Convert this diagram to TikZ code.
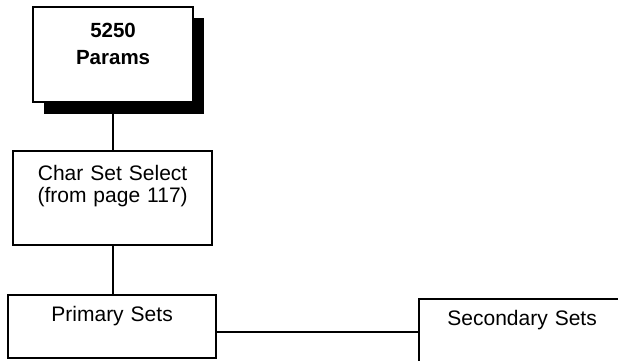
\documentclass[tikz,border=0pt]{standalone}
\usepackage{fontspec}
\setmainfont{Liberation Sans}
\usepackage{tikz}
\usetikzlibrary{shadows, positioning}
\tikzset{
  menubox/.style={draw, fill=white, line width=2.2pt, inner sep=0pt, anchor=north west, align=center,
    font=\fontsize{21}{22}\selectfont},
  topbox/.style={menubox, font=\fontsize{20.5}{27.5}\selectfont\bfseries,
    drop shadow={shadow xshift=10.5pt, shadow yshift=-11.5pt, fill=black, opacity=1}},
  link/.style={line width=2.2pt}
}

\begin{document}
\begin{tikzpicture}[x=1pt, y=-1pt]
  \useasboundingbox (0,0) rectangle (618,360);
  \clip (0,0) rectangle (618,360);
  \node[topbox, text width=160pt, text height=30.5pt, text depth=65pt] (params) at (32,5.5) {5250\\Params};
  \node[menubox, text width=199pt, text height=29pt, text depth=65pt] (charsel) at (12,150) {Char Set Select\\(from page 117)};
  \node[menubox, text width=208pt, text height=26pt, text depth=37pt] (primary) at (7,294) {Primary Sets};
  \node[menubox, text width=206pt, text height=26pt, text depth=40pt] (secondary) at (418,298) {Secondary Sets};
  \draw[link] (charsel.north) -- (charsel.north |- params.south);
  \draw[link] (charsel.south) -- (charsel.south |- primary.north);
  \draw[link] (primary.east |- secondary.west) -- (secondary.west);
\end{tikzpicture}
\end{document}
